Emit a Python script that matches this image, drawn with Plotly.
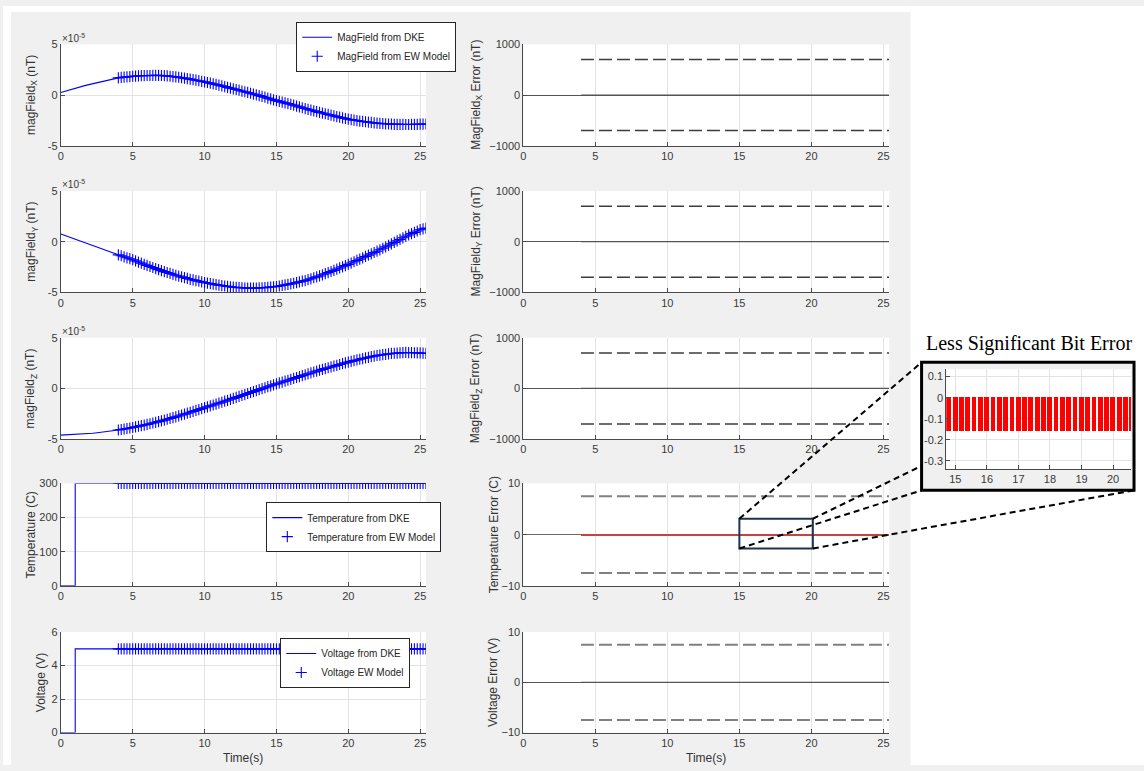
import plotly.graph_objects as go
import numpy as np

W, H = 1144, 771

# ---------------- data ----------------
# time grid of the DKE signals (s), 0.2 s step
t_dke = np.round(np.arange(0, 25.41, 0.2), 1)
EW_START = 4.0  # EW model output starts here

# magnetic field components in units of 1e-5 nT
SCALE = 1e-5
mag_x = [0.26, 0.35, 0.43, 0.52, 0.60, 0.68, 0.76, 0.83, 0.91, 0.98,
         1.05, 1.12, 1.19, 1.26, 1.33, 1.40, 1.46, 1.52, 1.58, 1.64,
         1.70, 1.74, 1.77, 1.80, 1.83, 1.86, 1.88, 1.90, 1.91, 1.92,
         1.93, 1.93, 1.94, 1.94, 1.94, 1.93, 1.91, 1.89, 1.86, 1.83,
         1.80, 1.76, 1.71, 1.67, 1.62, 1.57, 1.52, 1.47, 1.42, 1.36,
         1.31, 1.24, 1.18, 1.11, 1.05, 0.98, 0.91, 0.84, 0.76, 0.69,
         0.62, 0.55, 0.48, 0.40, 0.33, 0.26, 0.18, 0.10, 0.03, -0.05,
         -0.13, -0.21, -0.30, -0.38, -0.47, -0.55, -0.62, -0.69, -0.77, -0.84,
         -0.91, -0.99, -1.08, -1.16, -1.25, -1.33, -1.40, -1.48, -1.55, -1.63,
         -1.70, -1.77, -1.84, -1.91, -1.98, -2.05, -2.12, -2.18, -2.25, -2.31,
         -2.38, -2.42, -2.47, -2.51, -2.56, -2.60, -2.63, -2.67, -2.70, -2.74,
         -2.77, -2.79, -2.81, -2.83, -2.85, -2.87, -2.88, -2.88, -2.89, -2.89,
         -2.90, -2.90, -2.89, -2.89, -2.88, -2.87, -2.86, -2.85]
mag_y = [0.77, 0.67, 0.56, 0.46, 0.35, 0.25, 0.15, 0.04, -0.06, -0.16,
         -0.26, -0.36, -0.47, -0.57, -0.68, -0.78, -0.88, -0.98, -1.09, -1.19,
         -1.29, -1.38, -1.48, -1.58, -1.67, -1.77, -1.88, -2.00, -2.11, -2.22,
         -2.33, -2.44, -2.54, -2.65, -2.75, -2.85, -2.94, -3.03, -3.12, -3.21,
         -3.30, -3.38, -3.46, -3.54, -3.62, -3.70, -3.76, -3.83, -3.89, -3.96,
         -4.02, -4.07, -4.12, -4.18, -4.23, -4.28, -4.32, -4.36, -4.40, -4.44,
         -4.48, -4.50, -4.52, -4.54, -4.56, -4.58, -4.58, -4.57, -4.56, -4.55,
         -4.54, -4.52, -4.49, -4.46, -4.44, -4.41, -4.36, -4.31, -4.25, -4.20,
         -4.15, -4.09, -4.02, -3.96, -3.89, -3.83, -3.74, -3.65, -3.55, -3.46,
         -3.37, -3.26, -3.15, -3.04, -2.93, -2.82, -2.70, -2.58, -2.47, -2.35,
         -2.23, -2.10, -1.97, -1.84, -1.71, -1.58, -1.45, -1.32, -1.19, -1.06,
         -0.93, -0.79, -0.64, -0.50, -0.35, -0.21, -0.06, 0.09, 0.24, 0.39,
         0.54, 0.67, 0.80, 0.93, 1.06, 1.19, 1.27, 1.35]
mag_z = [-4.60, -4.59, -4.58, -4.57, -4.56, -4.55, -4.53, -4.51, -4.49, -4.47,
         -4.45, -4.42, -4.39, -4.36, -4.33, -4.30, -4.26, -4.22, -4.18, -4.14,
         -4.10, -4.05, -4.00, -3.95, -3.90, -3.85, -3.79, -3.73, -3.67, -3.61,
         -3.55, -3.48, -3.41, -3.34, -3.27, -3.20, -3.12, -3.04, -2.96, -2.88,
         -2.80, -2.71, -2.62, -2.53, -2.44, -2.35, -2.26, -2.17, -2.08, -1.99,
         -1.90, -1.81, -1.72, -1.63, -1.54, -1.45, -1.36, -1.26, -1.17, -1.07,
         -0.98, -0.88, -0.79, -0.69, -0.60, -0.50, -0.40, -0.31, -0.21, -0.12,
         -0.02, 0.07, 0.17, 0.26, 0.36, 0.45, 0.54, 0.63, 0.72, 0.81,
         0.90, 0.99, 1.08, 1.17, 1.26, 1.35, 1.44, 1.53, 1.62, 1.71,
         1.80, 1.88, 1.96, 2.04, 2.12, 2.20, 2.28, 2.36, 2.44, 2.52,
         2.60, 2.67, 2.74, 2.81, 2.88, 2.95, 3.01, 3.07, 3.13, 3.19,
         3.25, 3.29, 3.33, 3.37, 3.41, 3.45, 3.47, 3.49, 3.51, 3.53,
         3.55, 3.54, 3.53, 3.52, 3.51, 3.50, 3.48, 3.45]

# step signals (DKE)
step_t = [0.0, 1.0, 25.4]
temp_dke = [0, 300, 300]
volt_dke = [0, 5, 5]
TEMP_EW = 300
VOLT_EW = 5

# error thresholds
thr_t = [4.0, 25.4]
MAG_THR = 700
TEMP_THR = 7.5
VOLT_THR = 7.5
TEMP_LSB_ERR = -0.16   # least significant bit error (C)

# ---------------- derived series ----------------
t_dke = list(t_dke)
ew_idx = [i for i, t in enumerate(t_dke) if t >= EW_START - 1e-9]
t_ew = [t_dke[i] for i in ew_idx]
magx_ew = [mag_x[i] * SCALE for i in ew_idx]
magy_ew = [mag_y[i] * SCALE for i in ew_idx]
magz_ew = [mag_z[i] * SCALE for i in ew_idx]
temp_ew = [TEMP_EW for _ in t_ew]
volt_ew = [VOLT_EW for _ in t_ew]
zero_err = [0.0 for _ in t_ew]
temp_err = [TEMP_LSB_ERR for _ in t_ew]

# ---------------- styling ----------------
FONT = "Liberation Sans, Arial, sans-serif"
AX = "#4a4a4a"
TXT = "#3a3a3a"
GRID = "#e3e3e3"
BLUE = "#0000ff"
FIGBG = "#f0f0f0"


def PX(p):
    return p / W


def PY(p):
    return 1 - p / H


LEFT = (58, 424)
RIGHT = (521.7, 888.5)
ROWS = [(39, 142), (188, 291), (337, 440), (485, 589), (636, 738)]
XR = [0, 25.4]
XT = [0, 5, 10, 15, 20, 25]


def xax(dom, anchor, rng=XR, tv=XT):
    return dict(domain=[PX(dom[0]), PX(dom[1])], range=rng, tickvals=tv,
                anchor=anchor, ticks="inside", ticklen=4, tickcolor=AX,
                showline=True, linecolor=AX, linewidth=1, showgrid=True,
                gridcolor=GRID, gridwidth=1, zeroline=False,
                tickfont=dict(size=11, color=TXT, family=FONT), fixedrange=True)


def yax(row, anchor, rng, tv, tt=None, zl=False, zlc="#555555"):
    d = dict(domain=[PY(row[1]), PY(row[0])], range=rng, tickvals=tv,
             anchor=anchor, ticks="inside", ticklen=4, tickcolor=AX,
             showline=True, linecolor=AX, linewidth=1, showgrid=True,
             gridcolor=GRID, gridwidth=1, zeroline=zl, zerolinecolor=zlc,
             zerolinewidth=1.3,
             tickfont=dict(size=11, color=TXT, family=FONT), fixedrange=True)
    if tt is not None:
        d["ticktext"] = tt
    return d


layout_axes = {}
mag_tv = [-5 * SCALE, 0, 5 * SCALE]
mag_tt = ["-5", "0", "5"]
left_y = [
    dict(rng=[-5 * SCALE, 5 * SCALE], tv=mag_tv, tt=mag_tt),
    dict(rng=[-5 * SCALE, 5 * SCALE], tv=mag_tv, tt=mag_tt),
    dict(rng=[-5 * SCALE, 5 * SCALE], tv=mag_tv, tt=mag_tt),
    dict(rng=[0, 300], tv=[0, 100, 200, 300], tt=None),
    dict(rng=[0, 6], tv=[0, 2, 4, 6], tt=None),
]
right_y = [
    dict(rng=[-1000, 1000], tv=[-1000, 0, 1000]),
    dict(rng=[-1000, 1000], tv=[-1000, 0, 1000]),
    dict(rng=[-1000, 1000], tv=[-1000, 0, 1000]),
    dict(rng=[-10, 10], tv=[-10, 0, 10]),
    dict(rng=[-10, 10], tv=[-10, 0, 10]),
]
for r in range(5):
    li, ri = 2 * r + 1, 2 * r + 2
    layout_axes[f"xaxis{li}"] = xax(LEFT, f"y{li}")
    layout_axes[f"yaxis{li}"] = yax(ROWS[r], f"x{li}", left_y[r]["rng"],
                                    left_y[r]["tv"], left_y[r]["tt"])
    layout_axes[f"xaxis{ri}"] = xax(RIGHT, f"y{ri}")
    layout_axes[f"yaxis{ri}"] = yax(ROWS[r], f"x{ri}", right_y[r]["rng"],
                                    right_y[r]["tv"], zl=True,
                                    zlc="#555555" if r != 3 else "#6a6a6a")

# inset axes (zoom of the temperature error)
INSET_BOX = (921, 362, 1134, 492)       # px: left, top, right, bottom
INSET_PLOT = (945.7, 369, 1131, 470)
layout_axes["xaxis11"] = xax((INSET_PLOT[0], INSET_PLOT[2]), "y11",
                             rng=[14.71, 20.57], tv=[15, 16, 17, 18, 19, 20])
layout_axes["yaxis11"] = yax((INSET_PLOT[1], INSET_PLOT[3]), "x11",
                             [-0.337, 0.135], [0.1, 0, -0.1, -0.2, -0.3],
                             ["0.1", "0", "-0.1", "-0.2", "-0.3"])

fig = go.Figure()

MSIZE = 8
# ---------------- traces ----------------
mags = [mag_x, mag_y, mag_z]
mags_ew = [magx_ew, magy_ew, magz_ew]
for r in range(3):
    ax = 2 * r + 1
    fig.add_trace(go.Scatter(x=t_dke, y=[v * SCALE for v in mags[r]], mode="lines",
                             line=dict(color=BLUE, width=1.1),
                             name="MagField from DKE", showlegend=(r == 0),
                             legend="legend", xaxis=f"x{ax}", yaxis=f"y{ax}",
                             hoverinfo="skip"))
    fig.add_trace(go.Scatter(x=t_ew, y=mags_ew[r], mode="markers",
                             marker=dict(symbol="cross-thin", size=MSIZE,
                                         line=dict(color=BLUE, width=1.1)),
                             name="MagField from EW Model", showlegend=(r == 0),
                             legend="legend", xaxis=f"x{ax}", yaxis=f"y{ax}",
                             hoverinfo="skip"))

fig.add_trace(go.Scatter(x=step_t, y=temp_dke, mode="lines", line_shape="hv",
                         line=dict(color=BLUE, width=1.1),
                         name="Temperature from DKE", legend="legend2",
                         xaxis="x7", yaxis="y7", hoverinfo="skip"))
fig.add_trace(go.Scatter(x=t_ew, y=temp_ew, mode="markers",
                         marker=dict(symbol="cross-thin", size=MSIZE,
                                     line=dict(color=BLUE, width=1.1)),
                         name="Temperature from EW Model", legend="legend2",
                         xaxis="x7", yaxis="y7", hoverinfo="skip"))
fig.add_trace(go.Scatter(x=step_t, y=volt_dke, mode="lines", line_shape="hv",
                         line=dict(color=BLUE, width=1.1),
                         name="Voltage from DKE", legend="legend3",
                         xaxis="x9", yaxis="y9", hoverinfo="skip"))
fig.add_trace(go.Scatter(x=t_ew, y=volt_ew, mode="markers",
                         marker=dict(symbol="cross-thin", size=MSIZE,
                                     line=dict(color=BLUE, width=1.1)),
                         name="Voltage EW Model", legend="legend3",
                         xaxis="x9", yaxis="y9", hoverinfo="skip"))

# error panels
thr_vals = [MAG_THR, MAG_THR, MAG_THR, TEMP_THR, VOLT_THR]
for r in range(5):
    ax = 2 * r + 2
    dcol = "#3c3c3c" if r < 3 else "#808080"
    dw = 1.5 if r < 3 else 2
    for s in (1, -1):
        fig.add_trace(go.Scatter(x=thr_t, y=[s * thr_vals[r]] * 2, mode="lines",
                                 line=dict(color=dcol, width=dw, dash="13px,5px"),
                                 showlegend=False, xaxis=f"x{ax}", yaxis=f"y{ax}",
                                 hoverinfo="skip"))
    if r == 3:
        fig.add_trace(go.Scatter(x=t_ew, y=temp_err, mode="lines",
                                 line=dict(color="#ff2a2a", width=1.2),
                                 showlegend=False, xaxis=f"x{ax}", yaxis=f"y{ax}",
                                 hoverinfo="skip"))
    else:
        fig.add_trace(go.Scatter(x=t_ew, y=zero_err, mode="lines",
                                 line=dict(color="#555555", width=1.2),
                                 showlegend=False, xaxis=f"x{ax}", yaxis=f"y{ax}",
                                 hoverinfo="skip"))

# inset bars
fig.add_trace(go.Bar(x=t_ew, y=temp_err, width=0.15,
                     marker=dict(color="#ff0000", line=dict(width=0)),
                     showlegend=False, xaxis="x11", yaxis="y11", hoverinfo="skip"))

# ---------------- shapes ----------------
shapes = []
# white page outside the MATLAB figure window
for (x0, y0, x1, y1) in [(910, 0, W, H), (0, 0, 910, 6), (0, 0, 8, H)]:
    shapes.append(dict(type="rect", xref="paper", yref="paper", layer="below",
                       x0=PX(x0), x1=PX(x1), y0=PY(y1), y1=PY(y0),
                       fillcolor="white", line=dict(width=0)))
# inset frame and plot area
shapes.append(dict(type="rect", xref="paper", yref="paper", layer="below",
                   x0=PX(INSET_BOX[0]), x1=PX(INSET_BOX[2]),
                   y0=PY(INSET_BOX[3]), y1=PY(INSET_BOX[1]),
                   fillcolor=FIGBG, line=dict(width=0)))
shapes.append(dict(type="rect", xref="paper", yref="paper", layer="below",
                   x0=PX(INSET_PLOT[0]), x1=PX(INSET_PLOT[2]),
                   y0=PY(INSET_PLOT[3]), y1=PY(INSET_PLOT[1]),
                   fillcolor="white", line=dict(width=0)))
shapes.append(dict(type="rect", xref="paper", yref="paper", layer="above",
                   x0=PX(INSET_BOX[0]), x1=PX(INSET_BOX[2]),
                   y0=PY(INSET_BOX[3]), y1=PY(INSET_BOX[1]),
                   fillcolor="rgba(0,0,0,0)", line=dict(color="black", width=3)))

# zoom rectangle on the temperature error panel
ZX = (15.0, 20.1)
ZY = (-2.7, 3.1)
shapes.append(dict(type="rect", xref="x8", yref="y8", layer="above",
                   x0=ZX[0], x1=ZX[1], y0=ZY[0], y1=ZY[1],
                   line=dict(color="#1d3550", width=2)))


def data_to_px(xv, yv, xdom, xr, ydom, yr):
    px = xdom[0] + (xv - xr[0]) / (xr[1] - xr[0]) * (xdom[1] - xdom[0])
    py = ydom[1] - (yv - yr[0]) / (yr[1] - yr[0]) * (ydom[1] - ydom[0])
    return px, py


def corner(xv, yv):
    return data_to_px(xv, yv, RIGHT, XR, ROWS[3], [-10, 10])


tl = corner(ZX[0], ZY[1])
bl = corner(ZX[0], ZY[0])
tr = corner(ZX[1], ZY[1])
br = corner(ZX[1], ZY[0])
itl = (INSET_BOX[0], INSET_BOX[1])
ibl = (INSET_BOX[0], INSET_BOX[3])
itr = (INSET_BOX[2], INSET_BOX[1])
ibr = (INSET_BOX[2], INSET_BOX[3])
# top-right connector is hidden behind the inset: clip at the inset's left edge
fr = (INSET_BOX[0] - tr[0]) / (itr[0] - tr[0])
itr_clip = (INSET_BOX[0], tr[1] + fr * (itr[1] - tr[1]))
for a, b in [(tl, itl), (bl, ibl), (tr, itr_clip), (br, ibr)]:
    shapes.append(dict(type="line", xref="paper", yref="paper", layer="above",
                       x0=PX(a[0]), y0=PY(a[1]), x1=PX(b[0]), y1=PY(b[1]),
                       line=dict(color="black", width=2, dash="6px,4px")))

# ---------------- annotations ----------------
ann = []
TFONT = dict(size=12, color="#333333", family=FONT)
left_titles = ["magField<sub>X</sub> (nT)", "magField<sub>Y</sub> (nT)",
               "magField<sub>Z</sub> (nT)", "Temperature (C)", "Voltage (V)"]
left_tx = [29, 29, 29, 28, 38]
right_titles = ["MagField<sub>X</sub> Error (nT)", "MagField<sub>Y</sub> Error (nT)",
                "MagField<sub>Z</sub> Error (nT)", "Temperature Error (C)",
                "Voltage Error (V)"]
right_tx = [475, 475, 475, 492, 492]
for r in range(5):
    cy = (ROWS[r][0] + ROWS[r][1]) / 2
    ann.append(dict(text=left_titles[r], x=PX(left_tx[r]), y=PY(cy), xref="paper",
                    yref="paper", textangle=-90, showarrow=False, font=TFONT,
                    xanchor="center", yanchor="middle"))
    ann.append(dict(text=right_titles[r], x=PX(right_tx[r]), y=PY(cy), xref="paper",
                    yref="paper", textangle=-90, showarrow=False, font=TFONT,
                    xanchor="center", yanchor="middle"))
for r in range(3):
    ann.append(dict(text="×10<sup>-5</sup>", x=PX(57), y=PY(ROWS[r][0] - 7),
                    xref="paper", yref="paper", showarrow=False, xanchor="left",
                    yanchor="middle", font=dict(size=10, color=TXT, family=FONT)))
for cx in ((LEFT[0] + LEFT[1]) / 2, (RIGHT[0] + RIGHT[1]) / 2):
    ann.append(dict(text="Time(s)", x=PX(cx), y=PY(764), xref="paper", yref="paper",
                    showarrow=False, xanchor="center", yanchor="middle", font=TFONT))
ann.append(dict(text="Less Significant Bit Error", x=PX(1029), y=PY(343),
                xref="paper", yref="paper", showarrow=False, xanchor="center",
                yanchor="middle",
                font=dict(size=20, color="black",
                          family="Liberation Serif, Times New Roman, serif")))

LEG = dict(bgcolor="white", bordercolor="#262626", borderwidth=1,
           font=dict(size=10, color="#262626", family=FONT),
           xanchor="left", yanchor="top", tracegroupgap=0)

fig.update_layout(
    width=W, height=H, autosize=False,
    margin=dict(l=0, r=0, t=0, b=0),
    paper_bgcolor=FIGBG, plot_bgcolor="white",
    showlegend=True,
    legend=dict(LEG, x=PX(294), y=PY(16)),
    legend2=dict(LEG, x=PX(264), y=PY(504)),
    legend3=dict(LEG, x=PX(278), y=PY(642)),
    shapes=shapes, annotations=ann, bargap=0,
    **layout_axes,
)

fig.write_html("out.html")
